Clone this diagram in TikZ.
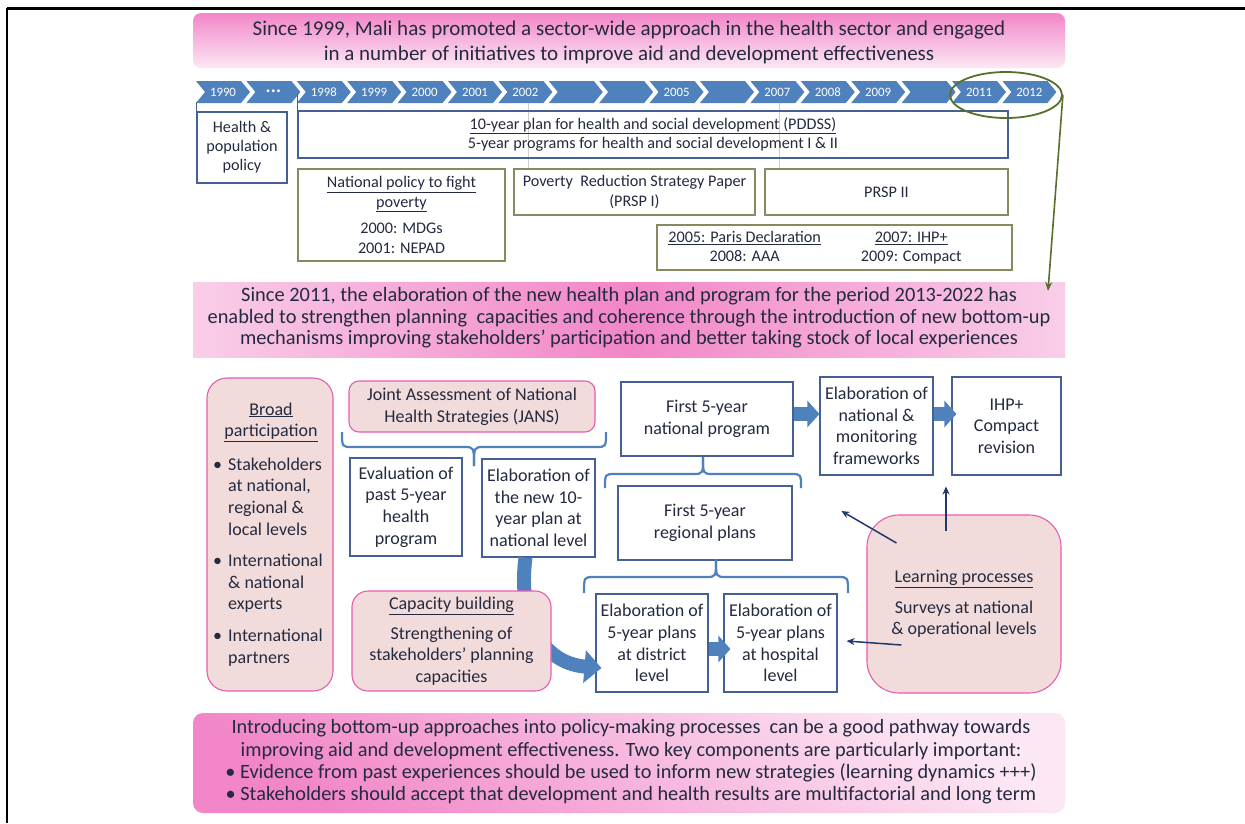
\documentclass[tikz,border=0pt]{standalone}
\usepackage{fontspec}
\setmainfont{Carlito}
\usetikzlibrary{arrows.meta,shapes.geometric,calc}

\definecolor{ink}{RGB}{36,42,64}
\definecolor{chevblue}{RGB}{79,129,189}
\definecolor{boxblue}{RGB}{70,96,150}
\definecolor{boxolive}{RGB}{138,136,94}
\definecolor{rosefill}{RGB}{242,220,219}
\definecolor{roseedge}{RGB}{232,92,176}
\definecolor{bandpink}{RGB}{242,134,200}
\definecolor{bandpale}{RGB}{252,232,244}
\definecolor{bandedge}{RGB}{249,206,232}
\definecolor{ovalgreen}{RGB}{88,112,42}
\definecolor{arrownavy}{RGB}{34,56,108}
\definecolor{guide}{RGB}{205,205,205}

\newcommand{\fsz}[2]{\fontsize{#1}{#2}\selectfont}
\newcommand{\tripledot}{{\fsz{8}{9}\textbullet\,\textbullet\,\textbullet}}

\begin{document}
\begin{tikzpicture}[x=1pt,y=-1pt,
  every node/.style={text=ink,inner sep=0pt},
  tlbox/.style={draw=boxblue,line width=1.1pt,align=center,font=\fsz{16.2}{19}},
  olivebox/.style={draw=boxolive,line width=1.2pt,align=center,font=\fsz{16.2}{19.5}},
  bluebox/.style={draw=boxblue,line width=1.1pt,fill=white,align=center,font=\fsz{18}{21.6}},
  rosebox/.style={draw=roseedge,line width=1.1pt,fill=rosefill,rounded corners=#1,align=center,font=\fsz{18}{21.6}},
  rosebox/.default=14pt,
  yearlabel/.style={text=white,font=\fsz{12.8}{14}},
  bandtext/.style={align=center,font=\fsz{20.4}{22}},
  brace/.style={draw=chevblue,line width=2.2pt},
  blockarrow/.style={draw=chevblue,line width=14pt,-{Triangle[length=12pt,width=26pt]}},
  thinarrow/.style={draw=arrownavy,line width=1.5pt,-{Stealth[length=8pt,width=7pt]}},
]
\useasboundingbox (0,0) rectangle (1245,823);
\fill[white] (0,0) rectangle (1245,823);
\draw[line width=3pt] (7,8) -- (1245,8);
\draw[line width=2pt] (7,8) -- (7,823);

% ---------- opening banner ----------
\shade[top color=bandpink,bottom color=bandpale,rounded corners=8pt] (193,13) rectangle (1065,68);
\node[bandtext,font=\fsz{21}{25}] (intro) at (629,42)
  {Since 1999, Mali has promoted a sector-wide approach in the health sector and engaged\\
   in a number of initiatives to improve aid and development effectiveness};

% ---------- timeline chevrons ----------
\foreach \i/\lab in {0/1990,1/\tripledot,2/1998,3/1999,4/2000,5/2001,6/2002,7/{},8/{},
                     9/2005,10/{},11/2007,12/2008,13/2009,14/{},15/2011,16/2012}{
  \pgfmathsetmacro\xl{196+50.4*\i}
  \fill[chevblue] (\xl,81) -- ++(45,0) -- ++(9,11) -- ++(-9,11) -- ++(-45,0) -- ++(9,-11) -- cycle;
  \node[yearlabel] (yr\i) at (\xl+27,92) {\lab};
}

% guides from 2002 and 2007
\draw[guide,line width=0.8pt] (528,103) -- (528,169);
\draw[guide,line width=0.8pt] (779,103) -- (779,169);

% ---------- policy boxes under the timeline ----------
\node[tlbox,minimum width=90pt,minimum height=71pt] (hpp) at (242,147.5)
  {Health \&\\population\\policy};
\draw[boxblue,line width=1.1pt] (hpp.north west) -- ++(0,-9);

\node[tlbox,minimum width=710pt,minimum height=47pt] (pddss) at (653,134.5)
  {\underline{10-year plan for health and social development (PDDSS)}\\
   5-year programs for health and social development I \& II};
\draw[boxblue,line width=1.1pt] (pddss.north west) -- ++(0,-16);

\node[olivebox,minimum width=207pt,minimum height=92pt] (npfp) at (401.5,215)
  {\underline{National policy to fight}\\\underline{poverty}\\[7pt]2000: MDGs\\2001: NEPAD};
\node[olivebox,minimum width=241pt,minimum height=46pt] (prsp1) at (634.5,192)
  {Poverty~ Reduction Strategy Paper\\(PRSP I)};
\node[olivebox,minimum width=243pt,minimum height=46pt] (prsp2) at (886.5,192) {PRSP II};
\node[olivebox,minimum width=355pt,minimum height=45pt] (paris) at (834.5,247.5) {};
\node[font=\fsz{16.2}{19}] (paristext) at (815,248)
  {\begin{tabular}{@{}c@{\hspace{40pt}}c@{}}
     \underline{2005: Paris Declaration} & \underline{2007: IHP+}\\
     2008: AAA & 2009: Compact
   \end{tabular}};

% ---------- transition banner ----------
\shade[left color=bandedge,right color=bandedge,middle color=bandpink] (193,282) rectangle (1065,357);
\node[bandtext,font=\fsz{20.4}{21.5}] (mid) at (629,318)
  {Since 2011, the elaboration of the new health plan and program for the period 2013-2022 has\\
   enabled to strengthen planning~ capacities and coherence through the introduction of new bottom-up\\
   mechanisms improving stakeholders’ participation and better taking stock of local experiences};

% highlight on 2011-2012 and the link down to the banner
\node[draw=ovalgreen,line width=1.8pt,ellipse,minimum width=112pt,minimum height=46pt] (oval) at (1006,95) {};
\coordinate (ovaltarget) at (1048,291);
\draw[ovalgreen,line width=1.6pt,-{Stealth[length=9pt,width=7pt]}] (oval.east) -- (ovaltarget);

% ---------- planning process ----------
\node[rosebox=20pt,minimum width=126pt,minimum height=313pt] (broad) at (270,534.5) {};
\node[align=center,font=\fsz{18}{21.6}] (broadtitle) at (271,422)
  {\underline{Broad}\\\underline{participation}};
\node[anchor=north west,font=\fsz{18}{21.6}] (broadlist) at (213,455)
  {\begin{tabular}{@{}p{15pt}@{}l@{}}
     • & Stakeholders\\ & at national,\\ & regional \&\\ & local levels\\[10pt]
     • & International\\ & \& national\\ & experts\\[10pt]
     • & International\\ & partners
   \end{tabular}};

\node[rosebox=10pt,minimum width=246pt,minimum height=51pt] (jans) at (472,406.5)
  {Joint Assessment of National\\Health Strategies (JANS)};

\node[bluebox,minimum width=112pt,minimum height=98pt] (evalp) at (406,507)
  {Evaluation of\\past 5-year\\health\\program};
\node[bluebox,minimum width=113pt,minimum height=98pt] (tenyear) at (538.5,508)
  {Elaboration of\\the new 10-\\year plan at\\national level};

\node[bluebox,minimum width=172pt,minimum height=74pt] (natprog) at (707,419)
  {First 5-year\\national program};
\node[bluebox,minimum width=113pt,minimum height=98pt] (frames) at (876.5,426)
  {Elaboration of\\national \&\\monitoring\\frameworks};
\node[bluebox,minimum width=109pt,minimum height=98pt] (ihp) at (1006.5,426)
  {IHP+\\Compact\\revision};
\node[bluebox,minimum width=174pt,minimum height=74pt] (regplan) at (705,523)
  {First 5-year\\regional plans};
\node[bluebox,minimum width=112pt,minimum height=98pt] (district) at (652,643)
  {Elaboration of\\5-year plans\\at district\\level};
\node[bluebox,minimum width=113pt,minimum height=98pt] (hospital) at (780.5,643)
  {Elaboration of\\5-year plans\\at hospital\\level};

% curved arrow from the national plan, passing behind capacity building
\draw[chevblue,line width=14pt,-{Triangle[length=17pt,width=32pt]}]
  ([xshift=-13pt]tenyear.south) .. controls +(-8,60) and +(-60,-5) .. ([shift={(6pt,-25pt)}]district.west);

\node[rosebox=16pt,minimum width=199pt,minimum height=100pt] (capacity) at (451.5,641)
  {\underline{Capacity building}\\[8pt]Strengthening of\\stakeholders’ planning\\capacities};

\node[rosebox=32pt,minimum width=194pt,minimum height=178pt] (learn) at (964,604)
  {\underline{Learning processes}\\[9pt]Surveys at national\\\& operational levels};

% braces
\draw[brace] (342,432) .. controls (342,447) .. (352,447) -- (464,447) .. controls (474,447) .. (474,466);
\draw[brace] (606,432) .. controls (606,447) .. (596,447) -- (484,447) .. controls (474,447) .. (474,466);
\draw[brace] (605,488) .. controls (605,474) .. (615,474) -- (693,474) .. controls (703,474) .. (703,457);
\draw[brace] (801,488) .. controls (801,474) .. (791,474) -- (713,474) .. controls (703,474) .. (703,457);
\draw[brace] (584,593) .. controls (584,577) .. (594,577) -- (706,577) .. controls (716,577) .. (716,559);
\draw[brace] (848,593) .. controls (848,577) .. (838,577) -- (726,577) .. controls (716,577) .. (716,559);

% block arrows between steps
\draw[blockarrow] ([yshift=5pt]natprog.east) -- ([yshift=5pt]natprog.east -| frames.west);
\draw[blockarrow] ([yshift=12pt]frames.east) -- ([xshift=5pt,yshift=12pt]ihp.west);
\draw[blockarrow] ([yshift=-6pt]district.east) -- ([xshift=7pt,yshift=-6pt]hospital.west);

% feedback from learning processes
\draw[thinarrow] ([shift={(-18pt,-17pt)}]learn.north) -- ([shift={(-18pt,28pt)}]learn.north);
\draw[thinarrow] ($(learn.west)+(30,-61)$) -- ($(learn.west)+(-25,-93)$);
\draw[thinarrow] ($(learn.west)+(35,41)$) -- ($(hospital.east)+(9,-2)$);

% ---------- closing banner ----------
\shade[top color=bandpale,bottom color=bandpink,shading angle=-35,rounded corners=10pt] (193,713) rectangle (1065,813);
\node[bandtext,font=\fsz{20.3}{22.3}] (outro) at (631,762)
  {Introducing bottom-up approaches into policy-making processes~ can be a good pathway towards\\
   improving aid and development effectiveness. Two key components are particularly important:\\
   • Evidence from past experiences should be used to inform new strategies (learning dynamics +++)\\
   • Stakeholders should accept that development and health results are multifactorial and long term};
\end{tikzpicture}
\end{document}
